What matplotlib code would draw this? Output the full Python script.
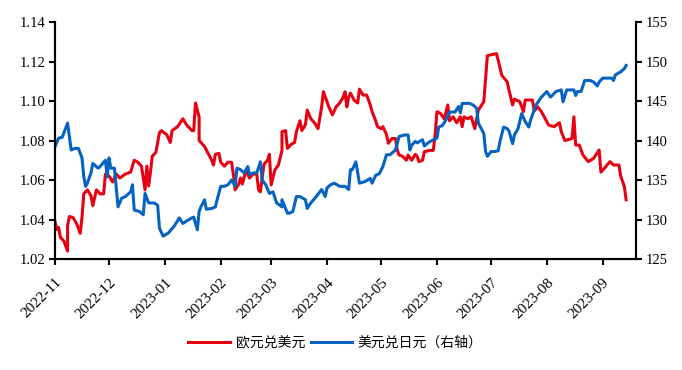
import numpy as np
import pandas as pd
from matplotlib import pyplot as plt
import matplotlib.dates as mdates

start = pd.Timestamp('2022-11-01')

# 欧元兑美元 (left axis): days since 2022-11-01, value
eur_day = [0, 1, 2, 3, 5, 7, 7, 8, 10, 12, 14, 15, 16, 18, 20, 21, 23, 25, 27, 28,
           30, 32, 34, 36, 39, 42, 44, 46, 48, 50, 51, 52, 53, 54, 56, 58, 59, 62, 64, 65,
           68, 71, 73, 76, 77, 78, 80, 80, 83, 85, 87, 88, 89, 91, 92, 94, 96, 98, 99, 100,
           102, 103, 104, 106, 108, 110, 112, 113, 114, 116, 118, 119, 120, 122, 124, 126, 126, 128, 129, 131,
           133, 134, 136, 137, 139, 140, 142, 144, 146, 148, 149, 151, 152, 154, 156, 158, 160, 161, 162, 163,
           164, 166, 168, 169, 171, 173, 175, 176, 178, 179, 181, 182, 184, 185, 187, 189, 190, 191, 193, 195,
           196, 198, 200, 201, 202, 204, 205, 208, 210, 211, 212, 214, 216, 218, 219, 221, 223, 225, 226, 227,
           229, 231, 233, 235, 238, 240, 245, 246, 248, 251, 252, 254, 255, 258, 260, 261, 265, 266, 268, 270,
           274, 277, 280, 281, 283, 287, 288, 289, 291, 293, 296, 299, 302, 303, 305, 308, 310, 313, 314, 316,
           317]
eur_val = [1.039, 1.035, 1.036, 1.031, 1.029, 1.024, 1.037, 1.0415, 1.041, 1.038, 1.033, 1.041, 1.053, 1.055, 1.052, 1.047, 1.055, 1.053, 1.053, 1.063,
           1.062, 1.059, 1.063, 1.061, 1.063, 1.064, 1.070, 1.069, 1.067, 1.055, 1.067, 1.057, 1.064, 1.072, 1.074, 1.084, 1.085, 1.083, 1.079, 1.085,
           1.087, 1.091, 1.088, 1.085, 1.085, 1.099, 1.092, 1.080, 1.077, 1.0735, 1.070, 1.0676, 1.073, 1.0735, 1.069, 1.067, 1.069, 1.069, 1.063, 1.055,
           1.058, 1.061, 1.058, 1.065, 1.061, 1.063, 1.063, 1.055, 1.054, 1.068, 1.070, 1.073, 1.0575, 1.065, 1.0676, 1.075, 1.0845, 1.085, 1.076, 1.078,
           1.079, 1.0845, 1.090, 1.085, 1.088, 1.0954, 1.091, 1.089, 1.086, 1.097, 1.1047, 1.0996, 1.097, 1.093, 1.097, 1.099, 1.102, 1.1047, 1.097, 1.102,
           1.104, 1.1005, 1.099, 1.106, 1.103, 1.103, 1.098, 1.0946, 1.090, 1.087, 1.086, 1.087, 1.083, 1.0786, 1.081, 1.081, 1.075, 1.0727, 1.072, 1.070,
           1.0727, 1.070, 1.073, 1.072, 1.0693, 1.070, 1.0743, 1.075, 1.075, 1.083, 1.0946, 1.0937, 1.091, 1.098, 1.090, 1.092, 1.089, 1.092, 1.087, 1.092,
           1.091, 1.092, 1.086, 1.0954, 1.0996, 1.123, 1.124, 1.1206, 1.113, 1.1097, 1.1055, 1.098, 1.101, 1.0996, 1.0946, 1.1005, 1.1005, 1.095, 1.097, 1.0946,
           1.0878, 1.087, 1.089, 1.0845, 1.080, 1.081, 1.092, 1.0777, 1.0777, 1.0727, 1.0693, 1.071, 1.0752, 1.064, 1.066, 1.0693, 1.0676, 1.0676, 1.062, 1.0567,
           1.050]

# 美元兑日元 (right axis)
jpy_day = [0, 2, 4, 7, 8, 9, 11, 13, 15, 16, 17, 18, 20, 21, 24, 25, 28, 29, 30, 31,
           33, 35, 37, 39, 42, 43, 44, 47, 49, 50, 52, 55, 57, 58, 60, 63, 64, 66, 69, 71,
           73, 76, 77, 79, 80, 81, 83, 84, 87, 89, 90, 92, 94, 96, 98, 100, 101, 103, 105, 107,
           108, 110, 112, 114, 115, 117, 119, 121, 123, 126, 126, 129, 130, 132, 134, 136, 139, 140, 142, 145,
           148, 150, 151, 153, 155, 158, 161, 163, 164, 165, 167, 169, 172, 175, 176, 178, 180, 182, 184, 186,
           189, 191, 194, 196, 197, 198, 200, 201, 204, 205, 207, 210, 212, 213, 215, 217, 219, 222, 224, 225,
           226, 230, 232, 234, 235, 238, 239, 240, 242, 244, 246, 247, 249, 251, 252, 254, 255, 257, 259, 261,
           263, 264, 267, 270, 273, 275, 276, 278, 281, 282, 284, 288, 289, 290, 292, 294, 297, 299, 301, 302,
           304, 309, 310, 311, 314, 316, 317]
jpy_val = [139.2, 140.3, 140.4, 142.2, 140.5, 138.8, 139.0, 139.0, 137.8, 135.4, 134.2, 134.6, 135.9, 137.1, 136.5, 136.7, 137.5, 135.4, 137.8, 136.5,
           136.5, 131.6, 132.7, 132.9, 133.5, 134.4, 131.2, 131.0, 130.6, 133.3, 132.1, 132.1, 131.8, 128.9, 127.9, 128.3, 128.6, 129.1, 130.2, 129.5,
           129.8, 130.2, 130.3, 128.7, 131.0, 131.6, 132.5, 131.3, 131.4, 131.6, 132.5, 134.2, 134.2, 134.4, 135.0, 134.2, 136.5, 136.3, 135.9, 136.7,
           135.7, 135.9, 135.9, 137.3, 135.0, 134.4, 133.3, 133.5, 132.1, 131.6, 132.5, 130.8, 130.8, 131.0, 132.9, 132.9, 132.5, 131.4, 132.1, 132.9,
           133.8, 132.9, 134.0, 134.4, 134.6, 134.2, 134.2, 133.8, 136.3, 136.3, 137.3, 134.6, 134.8, 135.2, 134.6, 135.6, 135.8, 136.7, 138.2, 138.2,
           138.8, 140.5, 140.7, 140.7, 138.8, 139.4, 139.9, 139.7, 140.1, 139.3, 139.7, 140.1, 140.3, 141.7, 141.9, 142.6, 143.6, 143.6, 144.3, 143.5,
           144.7, 144.7, 144.5, 144.1, 142.2, 140.9, 138.6, 138.0, 138.6, 138.6, 138.7, 139.9, 141.7, 141.5, 141.2, 139.6, 140.7, 141.5, 143.4, 142.4,
           141.7, 142.6, 144.5, 145.5, 146.2, 145.5, 145.7, 146.2, 146.4, 144.9, 146.4, 146.4, 145.7, 146.2, 146.2, 147.6, 147.6, 147.4, 146.9, 147.4,
           147.9, 147.9, 147.6, 148.3, 148.7, 149.1, 149.5]

eur_dates = start + pd.to_timedelta(eur_day, unit='D')
jpy_dates = start + pd.to_timedelta(jpy_day, unit='D')

plt.rcParams['font.family'] = ['Liberation Serif', 'Noto Sans CJK SC']
plt.rcParams['font.size'] = 10.5

fig = plt.figure(figsize=(6.82, 3.70), dpi=100)
ax = fig.add_axes([0.0806, 0.30, 0.852, 0.6405])
ax2 = ax.twinx()

l1, = ax.plot(eur_dates, eur_val, color='#E60012', linewidth=2.2, label='欧元兑美元')
l2, = ax2.plot(jpy_dates, jpy_val, color='#0563C1', linewidth=2.2, label='美元兑日元（右轴）')

ax.set_ylim(1.02, 1.14)
ax.set_yticks(np.arange(1.02, 1.141, 0.02))
ax.yaxis.set_major_formatter(plt.FormatStrFormatter('%.2f'))
ax2.set_ylim(125, 155)
ax2.set_yticks(np.arange(125, 156, 5))

ax.set_xlim(start, start + pd.Timedelta(days=322.5))
ax.xaxis.set_major_locator(mdates.MonthLocator())
ax.xaxis.set_major_formatter(mdates.DateFormatter('%Y-%m'))
for lab in ax.get_xticklabels():
    lab.set_rotation(45)
    lab.set_ha('right')
    lab.set_va('top')
    lab.set_rotation_mode('anchor')
    lab.set_fontsize(11)

for a in (ax, ax2):
    a.spines['top'].set_visible(False)
    for s in ('left', 'right', 'bottom'):
        a.spines[s].set_linewidth(1.5)
    a.tick_params(width=1.5, length=4, direction='out', pad=3)
ax.tick_params(axis='x', pad=8)

fig.legend([l1, l2], ['欧元兑美元', '美元兑日元（右轴）'], loc='center', bbox_to_anchor=(0.492, 0.073),
           ncol=2, frameon=False, handlelength=3, handletextpad=0.4, columnspacing=0.4,
           prop={'family': ['Noto Sans CJK SC'], 'size': 10})

fig.savefig('out.png', dpi=100)
